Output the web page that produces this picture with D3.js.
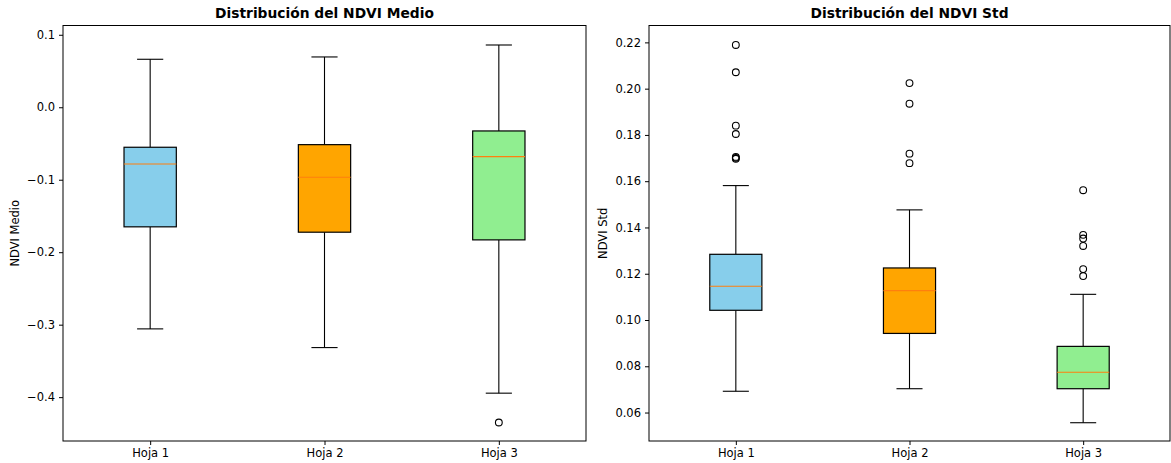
<!DOCTYPE html>
<html>
<head>
<meta charset="utf-8">
<script src="https://cdn.jsdelivr.net/npm/d3@7"></script>
<style>
  html, body { margin: 0; padding: 0; background: #fff; }
  svg { display: block; font-family: "DejaVu Sans", sans-serif; }
</style>
</head>
<body>
<svg id="chart" width="1171" height="463"></svg>
<script>
// Sheet names and box colours
const categories = ["Hoja 1", "Hoja 2", "Hoja 3"];
const boxColors = ["#87ceeb", "#ffa500", "#90ee90"];

// NDVI Medio: five-number summaries per sheet
const medioWhiskerLow  = [-0.3058, -0.3316, -0.3945];
const medioQ1          = [-0.1650, -0.1724, -0.1830];
const medioMedian      = [-0.0782, -0.0966, -0.0681];
const medioQ3          = [-0.0552, -0.0516, -0.0327];
const medioWhiskerHigh = [0.0662, 0.0694, 0.0859];
const medioOutliers    = [[], [], [-0.435]];
const medioTicks       = [0.1, 0.0, -0.1, -0.2, -0.3, -0.4];

// NDVI Std: five-number summaries per sheet
const stdWhiskerLow  = [0.0692, 0.0703, 0.0556];
const stdQ1          = [0.1042, 0.0942, 0.0703];
const stdMedian      = [0.1146, 0.1127, 0.0774];
const stdQ3          = [0.1284, 0.1225, 0.0886];
const stdWhiskerHigh = [0.1581, 0.1476, 0.1111];
const stdOutliers    = [
  [0.2189, 0.2071, 0.1840, 0.1804, 0.1705, 0.1701, 0.1697],
  [0.2024, 0.1935, 0.1719, 0.1678],
  [0.1561, 0.1368, 0.1352, 0.1320, 0.1220, 0.1190]
];
const stdTicks = [0.06, 0.08, 0.10, 0.12, 0.14, 0.16, 0.18, 0.20, 0.22];

const svg = d3.select("#chart");
const fontSize = 11.5;

function drawPanel(opts) {
  const { left, right, top, bottom, domain, ticks, fmt, title, ylabel, ylabelX,
          wLow, q1, med, q3, wHigh, outliers } = opts;

  const x = d3.scaleLinear().domain([0.5, 3.5]).range([left, right]);
  const y = d3.scaleLinear().domain(domain).range([bottom, top]);
  const g = svg.append("g");

  const boxW = x(1.3) - x(1);
  const capW = x(1.15) - x(1);

  categories.forEach((c, i) => {
    const cx = x(i + 1);
    // whiskers
    g.append("line").attr("x1", cx).attr("x2", cx)
      .attr("y1", y(q3[i])).attr("y2", y(wHigh[i]))
      .attr("stroke", "#000").attr("stroke-width", 1.1);
    g.append("line").attr("x1", cx).attr("x2", cx)
      .attr("y1", y(q1[i])).attr("y2", y(wLow[i]))
      .attr("stroke", "#000").attr("stroke-width", 1.1);
    // caps
    [wHigh[i], wLow[i]].forEach(v => {
      g.append("line").attr("x1", cx - capW / 2).attr("x2", cx + capW / 2)
        .attr("y1", y(v)).attr("y2", y(v))
        .attr("stroke", "#000").attr("stroke-width", 1.1);
    });
    // box
    g.append("rect")
      .attr("x", cx - boxW / 2).attr("width", boxW)
      .attr("y", y(q3[i])).attr("height", y(q1[i]) - y(q3[i]))
      .attr("fill", boxColors[i]).attr("stroke", "#000").attr("stroke-width", 1.2);
    // median
    g.append("line").attr("x1", cx - boxW / 2).attr("x2", cx + boxW / 2)
      .attr("y1", y(med[i])).attr("y2", y(med[i]))
      .attr("stroke", "#ff7f0e").attr("stroke-width", 1.1);
    // outliers
    g.selectAll(null).data(outliers[i]).enter().append("circle")
      .attr("cx", cx).attr("cy", d => y(d)).attr("r", 3.4)
      .attr("fill", "none").attr("stroke", "#000").attr("stroke-width", 1.1);
  });

  // frame
  g.append("rect").attr("x", left).attr("y", top)
    .attr("width", right - left).attr("height", bottom - top)
    .attr("fill", "none").attr("stroke", "#000").attr("stroke-width", 1);

  // y axis
  const yAxis = d3.axisLeft(y).tickValues(ticks).tickFormat(fmt).tickSizeOuter(0).tickSize(4).tickPadding(4);
  const ya = g.append("g").attr("transform", `translate(${left},0)`).call(yAxis);
  ya.select(".domain").remove();
  ya.selectAll("text").attr("font-size", fontSize).attr("font-family", "DejaVu Sans").attr("fill", "#000");
  ya.selectAll("line").attr("stroke", "#000");

  // x axis
  const xAxis = d3.axisBottom(x).tickValues([1, 2, 3]).tickFormat(d => categories[d - 1])
    .tickSizeOuter(0).tickSize(4).tickPadding(4);
  const xa = g.append("g").attr("transform", `translate(0,${bottom})`).call(xAxis);
  xa.select(".domain").remove();
  xa.selectAll("text").attr("font-size", fontSize).attr("font-family", "DejaVu Sans").attr("fill", "#000");
  xa.selectAll("line").attr("stroke", "#000");

  // title
  g.append("text").attr("x", (left + right) / 2).attr("y", 18)
    .attr("text-anchor", "middle").attr("font-weight", "bold").attr("font-size", 13.8)
    .text(title);

  // y label
  g.append("text")
    .attr("transform", `translate(${ylabelX},${(top + bottom) / 2}) rotate(-90)`)
    .attr("text-anchor", "middle").attr("font-size", fontSize)
    .text(ylabel);
}

drawPanel({
  left: 63, right: 586, top: 25.5, bottom: 441,
  domain: [-0.4605, 0.1128], ticks: medioTicks, fmt: d => d3.format(".1f")(d).replace("-", "\u2212"),
  title: "Distribución del NDVI Medio", ylabel: "NDVI Medio", ylabelX: 19,
  wLow: medioWhiskerLow, q1: medioQ1, med: medioMedian, q3: medioQ3, wHigh: medioWhiskerHigh,
  outliers: medioOutliers
});

drawPanel({
  left: 649, right: 1170, top: 25.5, bottom: 441,
  domain: [0.0477, 0.2273], ticks: stdTicks, fmt: d3.format(".2f"),
  title: "Distribución del NDVI Std", ylabel: "NDVI Std", ylabelX: 607,
  wLow: stdWhiskerLow, q1: stdQ1, med: stdMedian, q3: stdQ3, wHigh: stdWhiskerHigh,
  outliers: stdOutliers
});
</script>
</body>
</html>
